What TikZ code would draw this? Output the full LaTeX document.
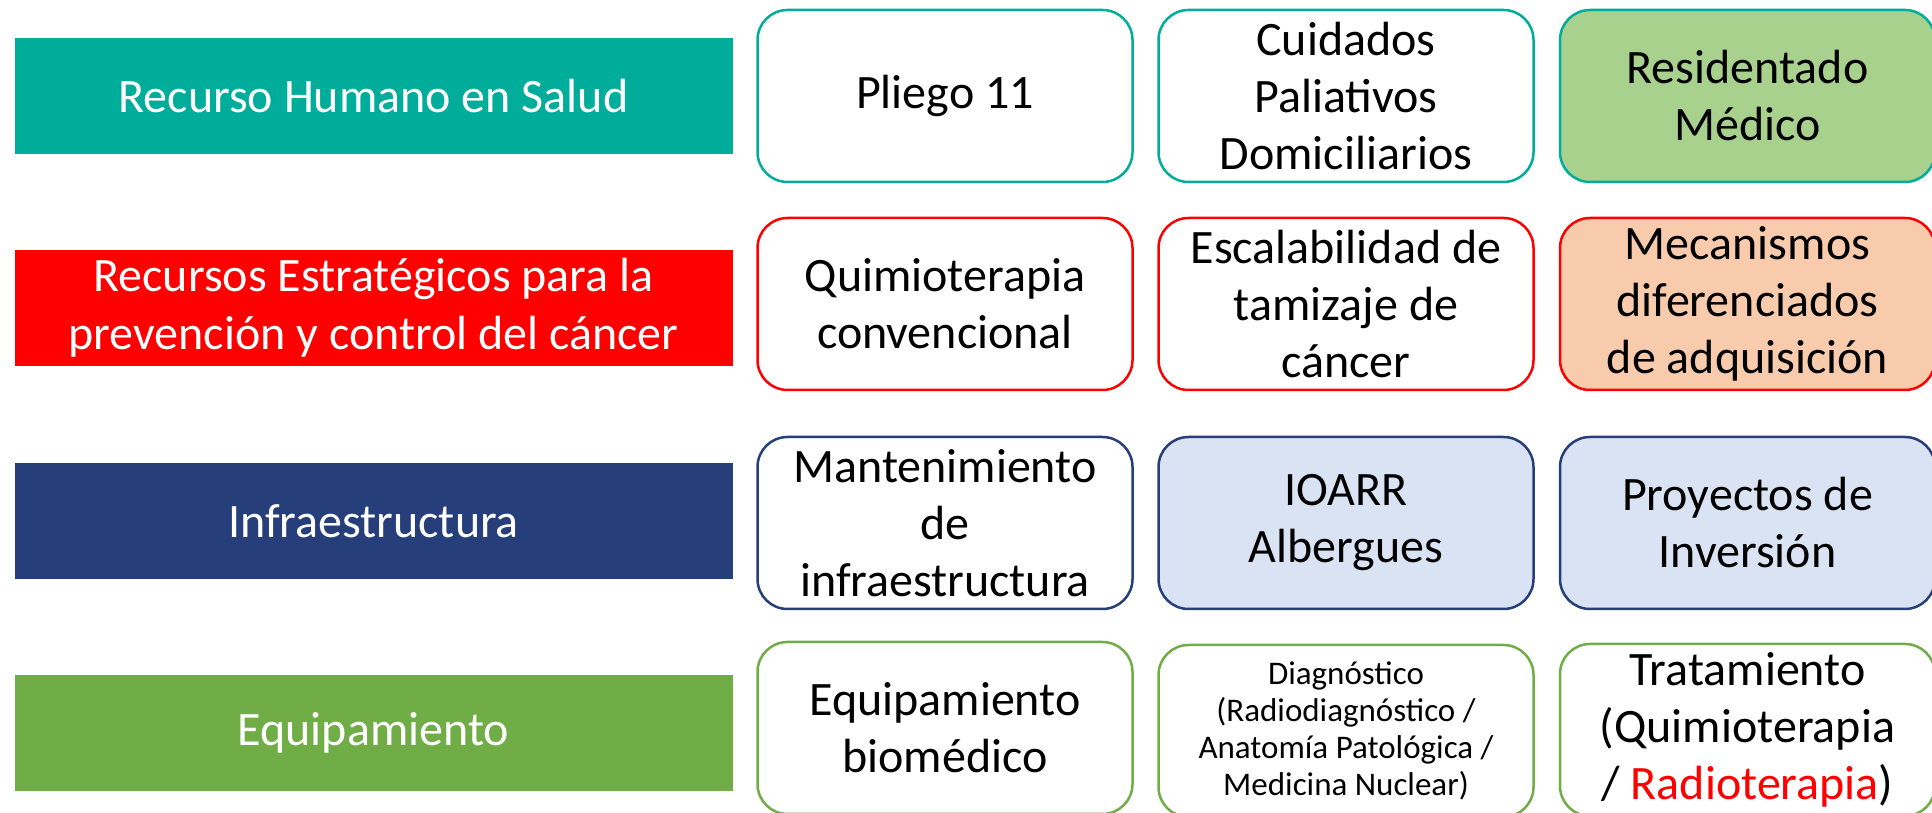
\documentclass[tikz,border=0pt]{standalone}
\usepackage{fontspec}
\setmainfont{Carlito}
\definecolor{cteal}{RGB}{0,173,155}
\definecolor{cred}{RGB}{255,0,0}
\definecolor{cnavy}{RGB}{38,62,122}
\definecolor{cgreen}{RGB}{112,173,71}
\definecolor{fgreen}{RGB}{169,209,142}
\definecolor{fpeach}{RGB}{248,203,173}
\definecolor{fblue}{RGB}{218,227,243}
\tikzset{
  bar/.style={draw=none, minimum width=718pt, minimum height=116pt, inner sep=0pt,
    text=white, align=center, font=\fontsize{48}{58}\selectfont},
  card/.style={rounded corners=30pt, line width=2.5pt, minimum width=375pt,
    minimum height=172pt, inner sep=0pt, align=center, text=black,
    font=\fontsize{48}{57}\selectfont},
  smallcard/.style={card, font=\fontsize{33}{37}\selectfont}
}
\begin{document}
\begin{tikzpicture}[x=1pt,y=1pt]
\useasboundingbox (0,0) rectangle (1932,813);
% left bars
\node[bar, fill=cteal] (b1) at (373.5,717) {Recurso Humano en Salud};
\node[bar, fill=cred] (b2) at (373.5,505) {Recursos Estratégicos para la\\prevención y control del cáncer};
\node[bar, fill=cnavy] (b3) at (373.5,292) {Infraestructura};
\node[bar, fill=cgreen] (b4) at (373.5,80) {Equipamiento};
% row 1
\node[card, draw=cteal, fill=white] (r11) at (945,717) {Pliego 11};
\node[card, draw=cteal, fill=white] (r12) at (1346,717) {Cuidados\\Paliativos\\Domiciliarios};
\node[card, draw=cteal, fill=fgreen] (r13) at (1747.5,717) {Residentado\\Médico};
% row 2
\node[card, draw=cred, fill=white] (r21) at (945,509) {Quimioterapia\\convencional};
\node[card, draw=cred, fill=white] (r22) at (1346,509) {Escalabilidad de\\tamizaje de\\cáncer};
\node[card, draw=cred, fill=fpeach] (r23) at (1747.5,509) {Mecanismos\\diferenciados\\de adquisición};
% row 3
\node[card, draw=cnavy, fill=white] (r31) at (945,290) {Mantenimiento\\de\\infraestructura};
\node[card, draw=cnavy, fill=fblue] (r32) at (1346,290) {IOARR\\Albergues};
\node[card, draw=cnavy, fill=fblue] (r33) at (1747.5,290) {Proyectos de\\Inversión};
% row 4
\node[card, draw=cgreen, fill=white] (r41) at (945,85) {Equipamiento\\biomédico};
\node[smallcard, draw=cgreen, fill=white] (r42) at (1346,82) {Diagnóstico\\(Radiodiagnóstico /\\Anatomía Patológica /\\Medicina Nuclear)};
\node[card, draw=cgreen, fill=white] (r43) at (1747.5,83) {Tratamiento\\(Quimioterapia\\/ \textcolor{cred}{Radioterapia})};
\end{tikzpicture}
\end{document}
